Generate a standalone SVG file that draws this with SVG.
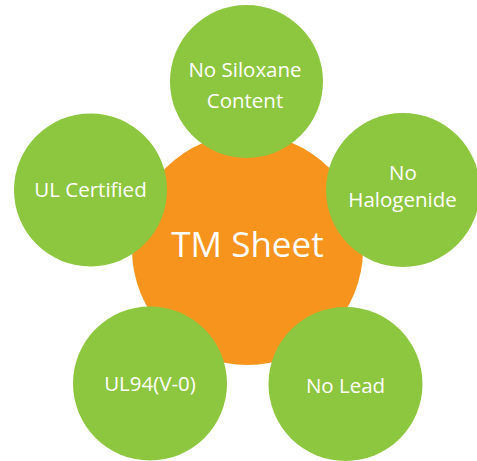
<svg xmlns="http://www.w3.org/2000/svg" width="477" height="461" viewBox="0 0 477 461">
<style>
.g{fill:#8DC63F}
.o{fill:#F7941D}
text{font-family:"Open Sans","Liberation Sans",sans-serif;fill:#fff;text-anchor:middle}
.s{font-size:20.5px}
.b{font-size:35px}
</style>
<g id="connectors"></g>
<g id="center"><circle class="o" cx="247.5" cy="249.5" r="115.5"/><text class="b" x="247.5" y="257">TM Sheet</text></g>
<g id="siloxane"><circle class="g" cx="246.5" cy="81.5" r="76.5"/><text class="s" x="245" y="77">No Siloxane</text><text class="s" x="245" y="108">Content</text></g>
<g id="ul"><circle class="g" cx="90.5" cy="190" r="76.5"/><text class="s" x="90.5" y="197">UL Certified</text></g>
<g id="halogenide"><circle class="g" cx="403" cy="190" r="77"/><text class="s" x="403" y="180">No</text><text class="s" x="402.5" y="207">Halogenide</text></g>
<g id="ul94"><circle class="g" cx="150" cy="383.5" r="77"/><text class="s" x="150" y="391">UL94(V-0)</text></g>
<g id="lead"><circle class="g" cx="345.5" cy="384" r="77"/><text class="s" x="345.5" y="393">No Lead</text></g>
</svg>
